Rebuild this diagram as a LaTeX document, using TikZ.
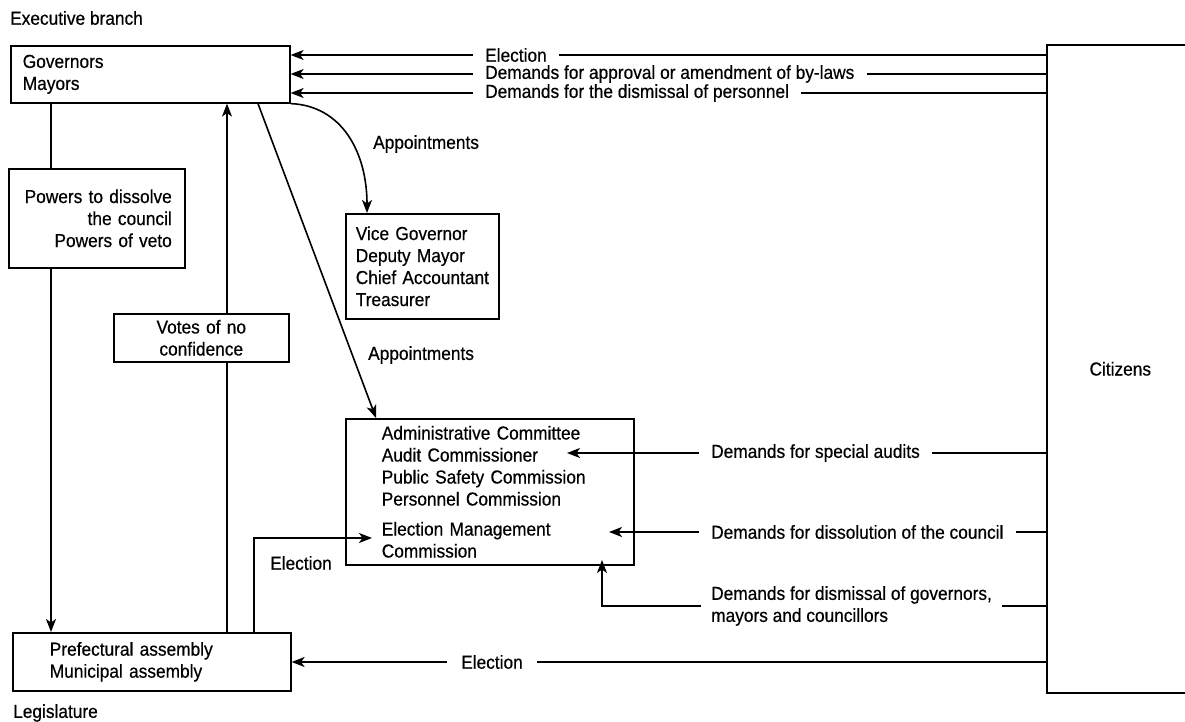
\documentclass[tikz,border=0pt]{standalone}
\usepackage{fontspec}
\setmainfont{Liberation Sans}[FakeStretch=0.92,FakeBold=0.5]
\usetikzlibrary{arrows.meta}
\begin{document}
\begin{tikzpicture}[x=1pt,y=-1pt,
  every node/.style={font=\fontsize{18.8}{22}\selectfont},
  box/.style={draw, line width=1.6pt, anchor=north west, inner ysep=0pt},
  lbl/.style={inner xsep=12pt, inner ysep=1pt},
  conn/.style={line width=1.6pt},
  arr/.style={conn, -{Stealth[length=13pt,width=10pt,inset=3.5pt]}}]
\fill[white] (0,0) rectangle (1185,722);
\useasboundingbox (0,0) rectangle (1185,722);

% headings
\node[anchor=west, inner sep=0pt] (exec) at (10,18) {Executive branch};
\node[anchor=west, inner sep=0pt] (leg) at (13,713) {Legislature};

% boxes
\node[box, minimum width=279pt, minimum height=57pt, inner xsep=12pt, text width=255pt, align=left] (gov) at (10,45) {Governors\\Mayors};
\node[box, minimum width=141pt, minimum height=648pt, align=center] (cit) at (1046,44) {\hspace*{6pt}Citizens};
\node[box, minimum width=176pt, minimum height=99pt, inner xsep=13pt, text width=150pt, align=right] (pow) at (8,168) {Powers to dissolve\\the council\\Powers of veto};
\node[box, minimum width=175pt, minimum height=48pt, inner xsep=8pt, text width=159pt, align=center] (votes) at (113,313) {Votes of no\\confidence};
\node[box, minimum width=153pt, minimum height=105pt, inner xsep=10pt, text width=133pt, align=left] (vice) at (345,213) {\mbox{Vice Governor}\\\mbox{Deputy Mayor}\\\mbox{Chief Accountant}\\\mbox{Treasurer}};
\node[box, minimum width=288pt, minimum height=146pt, inner xsep=36pt, text width=216pt, align=left] (comm) at (345,418) {\mbox{Administrative Committee}\\\mbox{Audit Commissioner}\\\mbox{Public Safety Commission}\\\mbox{Personnel Commission}\\[8pt]\mbox{Election Management}\\Commission};
\node[box, minimum width=278pt, minimum height=58pt, inner xsep=37pt, text width=204pt, align=left] (pref) at (12,632) {Prefectural assembly\\Municipal assembly};

% labels
\node[lbl, anchor=west] (l1) at (473,55) {Election};
\node[lbl, anchor=west] (l2) at (473,74) {Demands for approval or amendment of by-laws};
\node[lbl, anchor=west] (l3) at (473,93) {Demands for the dismissal of personnel};
\node[anchor=west, inner sep=0pt] (ap1) at (373,144) {Appointments};
\node[anchor=west, inner sep=0pt] (ap2) at (368,355) {Appointments};
\node[inner sep=0pt] (el2) at (301,563) {Election};
\node[lbl, anchor=west] (aud) at (699,453) {Demands for special audits};
\node[lbl, anchor=west] (dis) at (699,532) {Demands for dissolution of the council};
\node[lbl, anchor=west, align=left, inner xsep=10pt] (dsm) at (701,606) {Demands for dismissal of governors,\\mayors and councillors};
\node[lbl, inner xsep=14pt] (el3) at (492,662) {Election};

% free ends
\coordinate (audTip) at (567,453);
\coordinate (disTip) at (609,532);
\coordinate (dsmTip) at (602,560);
\coordinate (elTip) at (372,538);

% citizens -> governors
\draw[conn] (l1.east) -- (l1.east -| cit.west);
\draw[arr] (l1.west) -- (l1.west -| gov.east);
\draw[conn] (l2.east) -- (l2.east -| cit.west);
\draw[arr] (l2.west) -- (l2.west -| gov.east);
\draw[conn] (l3.east) -- (l3.east -| cit.west);
\draw[arr] (l3.west) -- (l3.west -| gov.east);

% citizens -> committees
\draw[conn] (aud.east) -- (aud.east -| cit.west);
\draw[arr] (aud.west) -- (audTip);
\draw[conn] (dis.east) -- (dis.east -| cit.west);
\draw[arr] (dis.west) -- (disTip);
\draw[conn] (dsm.east) -- (dsm.east -| cit.west);
\draw[arr] (dsm.west) -| (dsmTip);

% citizens -> assembly
\draw[conn] (el3.east) -- (el3.east -| cit.west);
\draw[arr] (el3.west) -- (el3.west -| pref.east);

% governors <-> assembly
\draw[conn] ([xshift=41pt]gov.south west) -- ([xshift=43pt]pow.north west);
\draw[arr] ([xshift=43pt]pow.south west) -- ([xshift=39pt]pref.north west);
\draw[conn] ([xshift=215pt]pref.north west) -- ([xshift=114pt]votes.south west);
\draw[arr] ([xshift=114pt]votes.north west) -- ([xshift=217pt]gov.south west);
\draw[arr] ([xshift=242pt]pref.north west) |- (elTip);

% appointments
\draw[arr] ([xshift=248pt]gov.south west) -- ([xshift=31pt]comm.north west);
\draw[arr] (gov.south east) .. controls +(51,2) and +(0,-61) .. ([xshift=22pt]vice.north west);
\end{tikzpicture}
\end{document}
